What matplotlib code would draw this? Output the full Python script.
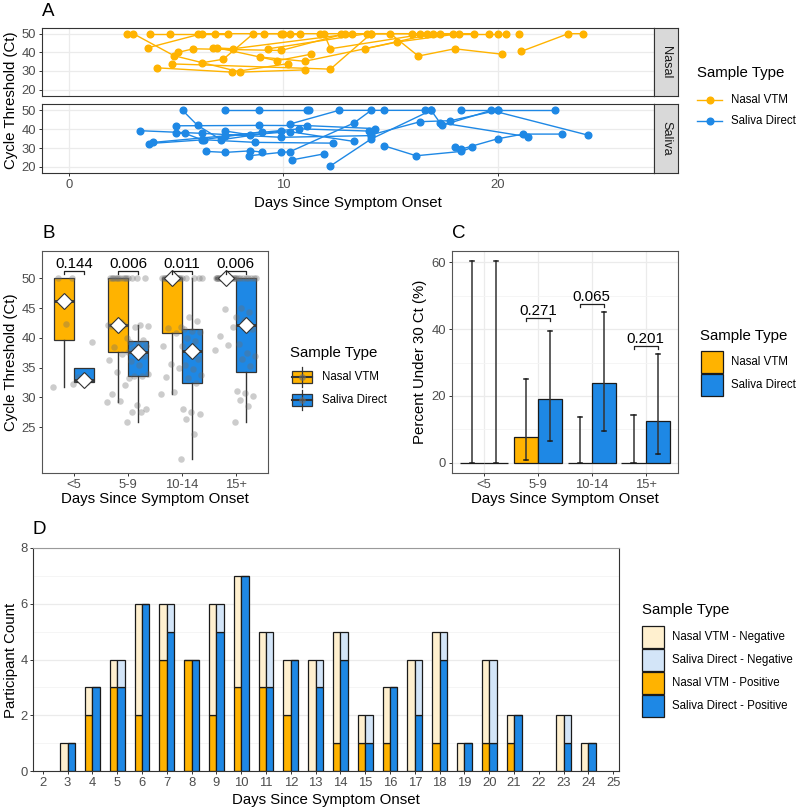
import matplotlib
matplotlib.use('Agg')
import matplotlib.pyplot as plt
import numpy as np
from matplotlib.patches import Rectangle

plt.rcParams['font.family'] = ['Liberation Sans', 'DejaVu Sans']

NASAL = '#FFB300'
SALIVA = '#1E88E5'
NASAL_NEG = '#FFF0CF'
SALIVA_NEG = '#D3E5F8'
TICKC = '#4D4D4D'
BORDER = '#333333'

# ---------------- Panel A data (participant trajectories) ----------------
nasal_pid = [1, 2, 2, 2, 2, 3, 3, 3, 3, 4, 4, 4, 4, 4, 5, 5, 5, 6, 6, 6,
             7, 7, 7, 7, 8, 8, 8, 8, 9, 9, 9, 9, 10, 10, 10, 11, 11, 11, 11,
             12, 12, 12, 12, 13, 13, 13, 14, 14, 14, 14, 15, 15, 15,
             16, 16, 16, 16, 16, 17, 17, 17, 17, 18, 18, 18, 19]
nasal_day = [2.7, 3.0, 4.9, 8.0, 11.0, 3.7, 6.2, 9.1, 12.7, 3.8, 4.7, 6.0, 6.8, 7.4,
             4.1, 7.6, 10.2, 4.8, 12.2, 14.1, 5.1, 5.8, 9.9, 12.9, 6.2, 7.2, 8.6, 10.0,
             6.7, 7.65, 13.2, 16.4, 6.9, 9.7, 11.3, 8.9, 11.0, 15.3, 18.2,
             9.3, 13.9, 16.0, 17.9, 9.9, 10.3, 10.8, 11.7, 11.9, 12.2, 16.7,
             13.8, 17.0, 18.9, 14.1, 15.0, 16.3, 18.0, 20.2, 17.3, 19.6, 20.0, 20.4,
             21.1, 23.3, 24.0, 21.0]
nasal_ct = [50, 50, 38.2, 29.4, 30.6, 42.5, 50, 50, 50, 50, 50, 50, 50, 50,
            31.7, 29.4, 33.9, 33.8, 31.0, 50, 40.0, 41.9, 41.0, 50, 34.4, 36.3, 50, 50,
            42.5, 41.9, 50, 50, 42.5, 35.5, 39.0, 37.5, 35.2, 45.5, 50,
            41.9, 50, 50, 50, 50, 50, 50, 50, 50, 41.9, 50,
            41.9, 50, 50, 50, 50, 38.0, 41.9, 39.0, 50, 50, 50, 50,
            40.5, 50, 50, 50]

saliva_pid = [1, 1, 1, 1, 2, 2, 2, 2, 3, 3, 3, 3, 4, 4, 4, 4, 5, 5, 5, 5,
              6, 6, 6, 6, 7, 7, 7, 7, 8, 8, 8, 8, 9, 9, 9, 9, 10, 10, 10, 10, 10,
              11, 11, 11, 11, 12, 12, 12, 13, 13, 13, 13, 14, 14, 14, 14,
              15, 15, 15, 15, 15, 16, 16, 16, 16, 17, 17, 17, 18, 18, 19, 19]
saliva_day = [3.3, 6.2, 9.9, 14.1, 3.75, 6.3, 8.7, 12.3, 3.94, 7.3, 10.75, 14.0,
              5.3, 6.0, 7.1, 9.9, 5.0, 8.85, 11.1, 14.3, 5.0, 5.4, 6.2, 9.0,
              6.4, 7.3, 8.45, 9.0, 7.3, 8.85, 11.1, 11.2, 7.3, 8.45, 10.3, 13.3,
              8.4, 9.9, 10.3, 13.3, 14.1, 10.3, 12.6, 14.7, 16.6, 12.2, 14.1, 16.9,
              14.1, 16.4, 17.8, 20.0, 14.7, 16.2, 18.3, 18.8,
              18.0, 18.3, 20.0, 21.2, 23.0, 16.9, 17.4, 19.7, 24.2,
              18.3, 20.0, 22.7, 17.3, 21.4, 10.4, 11.9]
saliva_ct = [39.2, 37.8, 35.7, 36.6, 32.4, 34.4, 33.0, 32.6, 33.0, 36.5, 40.2, 39.0,
             50, 42.0, 34.4, 39.0, 41.8, 42.0, 41.9, 40.3, 37.8, 37.8, 34.4, 38.6,
             28.2, 27.7, 28.5, 27.9, 50, 50, 50, 50, 39.0, 37.0, 38.7, 33.5,
             25.9, 27.7, 28.0, 43.3, 50, 42.7, 50, 50, 50, 20.5, 34.8, 50,
             37.0, 44.0, 44.5, 50, 31.2, 25.9, 28.2, 30.3,
             30.8, 29.4, 34.9, 37.4, 37.4, 50, 42.0, 50, 36.9,
             50, 50, 50, 43.5, 36.0, 23.7, 26.9]

# ---------------- Panel B data ----------------
groups = ['<5', '5-9', '10-14', '15+']
b_nasal = [
    [31.8, 42.3, 50, 50],
    [29.2, 29.4, 30.6, 32.1, 34.3, 36.3, 37.3, 38.5, 40.0, 41.6, 42.0, 42.1, 42.2,
     42.2, 42.6] + [50] * 11,
    [30.6, 30.9, 33.5, 35.0, 35.6, 38.6, 40.8, 41.7, 41.8] + [50] * 16,
    [38.0, 38.8, 40.3, 41.8, 44.8] + [50] * 19,
]
b_saliva = [
    [32.3, 32.6, 33.4, 39.3],
    [25.8, 27.5, 27.5, 28.1, 28.7, 33.3, 33.6, 33.6, 34.0, 35.4, 36.2, 37.0, 37.5,
     37.7, 38.0, 38.2, 38.6, 39.0, 39.3, 39.6, 41.9, 42.0, 42.2, 50, 50, 50],
    [19.6, 23.8, 26.3, 27.2, 27.5, 28.0, 32.4, 33.3, 33.8, 34.7, 35.5, 36.4, 37.8,
     38.6, 39.5, 40.0, 41.0, 41.2, 41.5, 42.8, 43.5, 50, 50, 50, 50],
    [25.8, 28.6, 29.6, 30.2, 30.7, 31.0, 35.3, 36.5, 37.0, 37.5, 39.0, 41.5, 43.0,
     43.5, 44.3, 45.0] + [50] * 8,
]
b_pvals = ['0.144', '0.006', '0.011', '0.006']

# ---------------- Panel C data ----------------
c_nasal_pct = [0, 7.7, 0, 0]
c_nasal_lo = [0, 0.8, 0, 0]
c_nasal_hi = [60.2, 25.1, 13.7, 14.2]
c_saliva_pct = [0, 19.2, 24.0, 12.5]
c_saliva_lo = [0, 6.5, 9.4, 2.7]
c_saliva_hi = [60.2, 39.4, 45.0, 32.4]
c_pvals = ['', '0.271', '0.065', '0.201']
c_pval_y = [None, 43.2, 47.6, 35.0]

# ---------------- Panel D data ----------------
d_days = list(range(2, 26))
d_nasal_total = [0, 1, 3, 4, 6, 6, 4, 6, 7, 5, 4, 4, 5, 2, 3, 4, 5, 1, 4, 2, 0, 2, 1, 0]
d_nasal_pos = [0, 0, 2, 3, 2, 4, 4, 2, 3, 3, 2, 0, 1, 1, 1, 0, 1, 0, 1, 1, 0, 0, 0, 0]
d_saliva_total = [0, 1, 3, 4, 6, 6, 4, 6, 7, 5, 4, 4, 5, 2, 3, 4, 5, 1, 4, 2, 0, 2, 1, 0]
d_saliva_pos = [0, 1, 3, 3, 6, 5, 4, 5, 7, 3, 4, 3, 4, 1, 3, 2, 4, 1, 1, 2, 0, 1, 1, 0]

# ---------------- Figure ----------------
W, H = 800, 810
fig = plt.figure(figsize=(W / 100, H / 100), dpi=100)


def ax_px(l, t, r, b):
    return fig.add_axes([l / W, 1 - b / H, (r - l) / W, (b - t) / H])


TS = 9.4    # tick label size
LS = 10.8   # axis title size


def style_axes(ax, border=BORDER):
    for s in ax.spines.values():
        s.set_color(border)
        s.set_linewidth(0.8)
    ax.tick_params(colors=BORDER, labelcolor=TICKC, labelsize=TS, length=2.3, width=0.7,
                   pad=1.8)


# ---- Panel A ----
xa = (-1.26, 27.3)
ya = (16.6, 53.2)
axA1 = ax_px(42, 27.7, 654, 96)
axA2 = ax_px(42, 104.3, 654, 173.3)
for ax, pid, day, ct, col, lab in [(axA1, nasal_pid, nasal_day, nasal_ct, NASAL, 'Nasal'),
                                    (axA2, saliva_pid, saliva_day, saliva_ct, SALIVA, 'Saliva')]:
    pid = np.array(pid); day = np.array(day); ct = np.array(ct)
    for p in np.unique(pid):
        m = pid == p
        order = np.argsort(day[m])
        ax.plot(day[m][order], ct[m][order], color=col, lw=1.0, marker='o', ms=4.8,
                mec=col, zorder=3)
    ax.set_xlim(*xa)
    ax.set_ylim(*ya)
    ax.set_xticks([0, 10, 20])
    ax.set_yticks([20, 30, 40, 50])
    ax.grid(True, color='#EBEBEB', lw=0.9, zorder=0)
    ax.set_axisbelow(True)
    style_axes(ax)
    top = 27.7 if lab == 'Nasal' else 104.3
    bot = 96 if lab == 'Nasal' else 173.3
    sax = ax_px(654, top, 678, bot)
    sax.set_facecolor('#D9D9D9')
    sax.set_xticks([]); sax.set_yticks([])
    for s in sax.spines.values():
        s.set_color(BORDER); s.set_linewidth(0.8)
    sax.text(0.5, 0.5, lab, rotation=270, ha='center', va='center', fontsize=9.2,
             color='#1A1A1A', transform=sax.transAxes)
axA1.tick_params(axis='x', bottom=False, labelbottom=False)

# ---- Panel B ----
axB = ax_px(41.7, 251, 268, 473)
dodge = 0.1875
bw = 0.375
for gi in range(4):
    for vals, off, col in [(b_nasal[gi], -dodge, NASAL), (b_saliva[gi], dodge, SALIVA)]:
        pos = gi + 1 + off
        bp = axB.boxplot([vals], positions=[pos], widths=bw, patch_artist=True,
                         showfliers=False, whis=1.5, manage_ticks=False,
                         boxprops=dict(facecolor=col, edgecolor='#333333', lw=0.9),
                         medianprops=dict(color='#333333', lw=2.0),
                         whiskerprops=dict(color='#333333', lw=1.0),
                         capprops=dict(lw=0))
        for z in bp['boxes']:
            z.set_zorder(2)
        n = len(vals)
        jit = np.array([((k * 0.618034) % 1.0 - 0.5) * 0.40 for k in range(n)])
        axB.scatter(pos + jit, vals, s=22, color='#6E6E6E', alpha=0.35, lw=0, zorder=4)
        axB.plot([pos], [np.median(vals)], marker='D', ms=8, mfc='white', mec='#333333',
                 mew=0.8, zorder=5)
    x1, x2 = gi + 1 - dodge, gi + 1 + dodge
    axB.plot([x1, x1, x2, x2], [50.8, 51.25, 51.25, 50.8], color='#222222', lw=0.9, zorder=6)
    axB.text(gi + 1, 51.25, b_pvals[gi], ha='center', va='bottom', fontsize=LS, zorder=6)
axB.set_xlim(0.4, 4.6)
axB.set_ylim(17.3, 54.6)
axB.set_yticks([25, 30, 35, 40, 45, 50])
axB.set_xticks([1, 2, 3, 4])
axB.set_xticklabels(groups)
style_axes(axB, border='#555555')

# ---- Panel C ----
axC = ax_px(451.7, 251, 678, 473)
cw = 0.45
xs = np.arange(1, 5)
axC.bar(xs - cw / 2, c_nasal_pct, width=cw, color=NASAL, edgecolor='#1A1A1A', lw=0.9, zorder=2)
axC.bar(xs + cw / 2, c_saliva_pct, width=cw, color=SALIVA, edgecolor='#1A1A1A', lw=0.9, zorder=2)
for i in range(4):
    for xc, lo, hi in [(xs[i] - cw / 2, c_nasal_lo[i], c_nasal_hi[i]),
                       (xs[i] + cw / 2, c_saliva_lo[i], c_saliva_hi[i])]:
        axC.plot([xc, xc], [lo, hi], color='#333333', lw=1.1, zorder=3)
        axC.plot([xc - 0.04, xc + 0.04], [hi, hi], color='#1A1A1A', lw=1.1, zorder=3)
        axC.plot([xc - 0.04, xc + 0.04], [lo, lo], color='#1A1A1A', lw=1.1, zorder=3)
    if c_pvals[i]:
        y = c_pval_y[i]
        x1, x2 = xs[i] - cw / 2, xs[i] + cw / 2
        axC.plot([x1, x1, x2, x2], [y - 0.9, y, y, y - 0.9], color='#222222', lw=0.9, zorder=4)
        axC.text(xs[i], y, c_pvals[i], ha='center', va='bottom', fontsize=LS, zorder=4)
axC.set_xlim(0.4, 4.6)
axC.set_ylim(-3.0, 63.3)
axC.set_yticks([0, 20, 40, 60])
axC.set_yticks([10, 30, 50], minor=True)
axC.set_xticks(xs)
axC.set_xticklabels(groups)
axC.grid(True, which='major', color='#EBEBEB', lw=0.9, zorder=0)
axC.grid(True, which='minor', axis='y', color='#F4F4F4', lw=0.6, zorder=0)
axC.set_axisbelow(True)
style_axes(axC, border='#555555')
axC.tick_params(which='minor', length=0)

# ---- Panel D ----
axD = ax_px(33.3, 548, 619, 771)
dd = np.array(d_days, dtype=float)
dw = 0.3
npos = np.array(d_nasal_pos); ntot = np.array(d_nasal_total)
spos = np.array(d_saliva_pos); stot = np.array(d_saliva_total)
has = ntot > 0
hs = stot > 0
axD.bar(dd[has] - dw / 2, npos[has], width=dw, color=NASAL, edgecolor='#1A1A1A', lw=0.9, zorder=2)
axD.bar(dd[has] - dw / 2, (ntot - npos)[has], bottom=npos[has], width=dw, color=NASAL_NEG,
        edgecolor='#1A1A1A', lw=0.9, zorder=2)
axD.bar(dd[hs] + dw / 2, spos[hs], width=dw, color=SALIVA, edgecolor='#1A1A1A', lw=0.9, zorder=2)
axD.bar(dd[hs] + dw / 2, (stot - spos)[hs], bottom=spos[hs], width=dw, color=SALIVA_NEG,
        edgecolor='#1A1A1A', lw=0.9, zorder=2)
axD.set_xlim(1.62, 25.23)
axD.set_ylim(0, 8)
axD.set_xticks(d_days)
axD.set_yticks([0, 2, 4, 6, 8])
axD.set_yticks([1, 3, 5, 7], minor=True)
axD.grid(True, which='major', axis='y', color='#EBEBEB', lw=0.9, zorder=0)
axD.grid(True, which='minor', axis='y', color='#F4F4F4', lw=0.6, zorder=0)
axD.set_axisbelow(True)
style_axes(axD)
axD.tick_params(which='minor', length=0)
axD.spines['top'].set_color('#9A9A9A')

# ---- overlay for text and legends (pixel coords) ----
ov = fig.add_axes([0, 0, 1, 1], facecolor='none')
ov.set_xlim(0, W)
ov.set_ylim(H, 0)
ov.axis('off')

for t, x, y in [('A', 42, 12), ('B', 42, 233), ('C', 452, 233), ('D', 33, 530)]:
    ov.text(x, y, t, fontsize=13.5, ha='left', va='center')

ov.text(11, 100.5, 'Cycle Threshold (Ct)', rotation=90, ha='center', va='center', fontsize=LS)
ov.text(11, 362, 'Cycle Threshold (Ct)', rotation=90, ha='center', va='center', fontsize=LS)
ov.text(420, 362, 'Percent Under 30 Ct (%)', rotation=90, ha='center', va='center', fontsize=LS)
ov.text(11, 660, 'Participant Count', rotation=90, ha='center', va='center', fontsize=LS)

ov.text(348, 203, 'Days Since Symptom Onset', ha='center', va='center', fontsize=LS)
ov.text(155, 499, 'Days Since Symptom Onset', ha='center', va='center', fontsize=LS)
ov.text(565, 499, 'Days Since Symptom Onset', ha='center', va='center', fontsize=LS)
ov.text(326, 800, 'Days Since Symptom Onset', ha='center', va='center', fontsize=LS)

LEGT = 10.8
LEGS = 8.3

# Legend A
ov.text(697, 73, 'Sample Type', ha='left', va='center', fontsize=LEGT)
for y, col, lab in [(100, NASAL, 'Nasal VTM'), (121, SALIVA, 'Saliva Direct')]:
    ov.plot([697, 722], [y, y], color=col, lw=1.0)
    ov.plot([709.5], [y], marker='o', ms=4.8, color=col)
    ov.text(731, y, lab, ha='left', va='center', fontsize=LEGS)

# Legend B
ov.text(290, 353, 'Sample Type', ha='left', va='center', fontsize=LEGT)
for y, col, lab in [(377, NASAL, 'Nasal VTM'), (400, SALIVA, 'Saliva Direct')]:
    ov.plot([302, 302], [y - 10, y + 10], color='#333333', lw=0.9)
    ov.add_patch(Rectangle((292, y - 6), 20, 12, facecolor=col, edgecolor='#333333', lw=0.9))
    ov.plot([292, 312], [y, y], color='#333333', lw=1.5)
    ov.plot([302], [y], marker='o', ms=4, color='#6E6E6E', alpha=0.5)
    ov.text(322, y, lab, ha='left', va='center', fontsize=LEGS)

# Legend C
ov.text(700, 336, 'Sample Type', ha='left', va='center', fontsize=LEGT)
for y, col, lab in [(362, NASAL, 'Nasal VTM'), (385, SALIVA, 'Saliva Direct')]:
    ov.add_patch(Rectangle((701, y - 11), 22, 22, facecolor=col, edgecolor='#1A1A1A', lw=0.9))
    ov.text(731, y, lab, ha='left', va='center', fontsize=LEGS)

# Legend D
ov.text(642, 610, 'Sample Type', ha='left', va='center', fontsize=LEGT)
for y, col, lab in [(637, NASAL_NEG, 'Nasal VTM - Negative'),
                    (660, SALIVA_NEG, 'Saliva Direct - Negative'),
                    (683, NASAL, 'Nasal VTM - Positive'),
                    (706, SALIVA, 'Saliva Direct - Positive')]:
    ov.add_patch(Rectangle((642, y - 11), 22, 22, facecolor=col, edgecolor='#1A1A1A', lw=0.9))
    ov.text(672, y, lab, ha='left', va='center', fontsize=LEGS)

fig.savefig('out.png', dpi=100)
